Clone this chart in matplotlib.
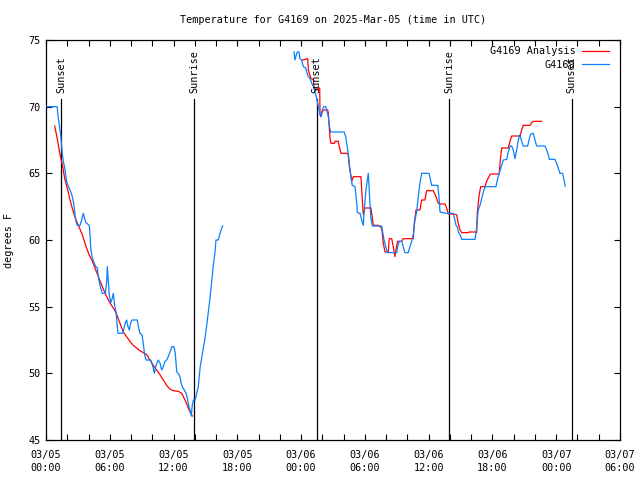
import numpy as np
import pandas as pd
import matplotlib
matplotlib.use('Agg')
import matplotlib.pyplot as plt
from matplotlib.ticker import MultipleLocator

# hours since 2025-03-05 00:00 UTC
BASE = pd.Timestamp('2025-03-05 00:00')

obs1_h = [0.07, 1.06, 1.10, 1.25, 1.38, 1.44, 1.53, 1.63, 1.76, 1.88, 1.95, 2.07, 2.26, 2.38, 2.51,
          2.63, 2.73, 2.82, 2.94, 3.20, 3.32, 3.51, 3.64, 3.76, 4.07, 4.14, 4.21, 4.33, 4.52, 4.68,
          4.83, 4.92, 5.08, 5.30, 5.58, 5.71, 5.77, 5.86, 5.95, 6.09, 6.24, 6.33, 6.46, 6.59, 6.65,
          6.77, 7.22, 7.34, 7.46, 7.59, 7.71, 7.84, 7.97, 8.09, 8.59, 8.72, 8.84, 9.03, 9.15, 9.28,
          9.41, 9.85, 9.94, 10.09, 10.19, 10.35, 10.56, 10.72, 10.88, 11.04, 11.19, 11.35, 11.50,
          11.67, 11.83, 12.04, 12.16, 12.30, 12.45, 12.61, 12.70, 12.82, 13.01, 13.17, 13.29, 13.42,
          13.55, 13.67, 13.76, 13.86, 14.02, 14.18, 14.33, 14.49, 14.65, 14.80, 14.96, 15.12, 15.27,
          15.43, 15.59, 15.74, 15.90, 15.99, 16.21, 16.37, 16.53, 16.62]
obs1_t = [70.0, 70.0, 69.5, 68.6, 67.9, 67.3, 66.5, 65.9, 65.4, 64.75, 64.35, 64.1, 63.75, 63.5, 63.15,
          62.6, 61.9, 61.4, 61.1, 61.1, 61.4, 62.0, 61.6, 61.3, 61.1, 60.4, 59.4, 58.75, 58.3, 58.0,
          57.9, 57.25, 56.6, 56.0, 56.0, 56.9, 58.0, 56.9, 55.9, 55.3, 55.65, 56.0, 55.1, 54.6, 54.0,
          53.0, 53.0, 53.4, 53.8, 54.0, 53.5, 53.25, 53.8, 54.0, 54.0, 53.4, 53.0, 52.9, 52.25, 51.4,
          51.0, 51.0, 50.8, 50.4, 50.0, 50.6, 51.0, 50.8, 50.25, 50.5, 50.9, 51.0, 51.25,
          51.6, 52.0, 52.0, 51.5, 50.1, 50.0, 49.75, 49.3, 49.0, 48.75, 48.5, 48.15, 47.6,
          47.25, 46.8, 47.6, 48.0, 48.0, 48.5, 49.0, 50.4, 51.15, 51.9, 52.65, 53.6, 54.6,
          55.65, 56.9, 58.1, 59.1, 60.0, 60.0, 60.5, 60.9, 61.05]

obs2_h = [23.33, 23.42, 23.55, 23.64, 23.80, 23.89, 24.05, 24.21, 24.43, 24.53, 24.68, 24.84, 25.00,
          25.15, 25.31, 25.47, 25.62, 25.75, 25.87, 25.99, 26.12, 26.31, 26.41, 26.56, 26.65, 26.78,
          28.06, 28.19, 28.32, 28.44, 28.57, 28.69, 28.81, 29.07, 29.23, 29.29, 29.54, 29.70, 29.85,
          29.92, 30.10, 30.32, 30.41, 30.55, 30.70, 31.58, 31.67, 31.80, 31.96, 32.11, 32.99, 33.08,
          33.24, 33.46, 33.61, 33.77, 34.08, 34.24, 34.40, 34.55, 34.71, 34.87, 35.02, 35.18, 35.34,
          36.03, 36.12, 36.28, 36.85, 36.97, 37.07, 37.69, 38.31, 38.47, 38.57, 38.69, 38.79, 38.95,
          39.11, 40.36, 40.45, 40.57, 40.67, 40.83, 40.99, 41.14, 41.30, 42.33, 42.46, 42.64, 42.87,
          43.02, 43.34, 43.49, 43.65, 43.81, 43.96, 44.12, 44.28, 44.43, 44.59, 44.71, 44.90, 45.31,
          45.44, 45.60, 45.84, 46.00, 46.16, 46.94, 47.10, 47.25, 47.35, 47.88, 48.04, 48.19, 48.35,
          48.60, 48.73, 48.85]
obs2_t = [74.1, 73.5, 73.9, 74.1, 74.1, 73.6, 73.5, 73.0, 72.9, 72.6, 72.25, 72.1, 71.75,
          71.5, 71.1, 70.6, 70.0, 69.5, 69.25, 69.75, 70.0, 70.0, 69.75, 69.25, 68.6, 68.1,
          68.1, 67.75, 67.1, 66.4, 65.4, 64.75, 64.1, 64.0, 62.8, 62.05, 62.0, 61.5, 61.1,
          62.0, 63.75, 65.0, 63.75, 61.75, 61.05, 61.05, 60.6, 60.0, 59.5, 59.05, 59.05, 59.5,
          59.9, 59.9, 59.5, 59.05, 59.05, 59.5, 59.9, 60.4, 61.5, 62.1, 63.25, 64.25, 65.0,
          65.0, 64.7, 64.1, 64.1, 63.25, 62.1, 62.0, 62.0, 61.5, 61.1, 61.0, 60.6, 60.4,
          60.05, 60.05, 60.5, 61.5, 62.25, 62.6, 63.1, 63.6, 64.0, 64.0, 64.5, 65.0, 65.6,
          66.0, 66.05, 66.6, 67.05, 67.05, 66.75, 66.1, 66.75, 67.5, 67.9, 67.5, 67.05, 67.05,
          67.5, 67.95, 68.0, 67.5, 67.05, 67.05, 66.75, 66.4, 66.05, 66.05, 65.75, 65.4, 65.0,
          65.0, 64.5, 64.05]

ana1_h = [0.82, 1.06, 1.32, 1.57, 1.76, 2.00, 2.26, 2.57, 2.82, 3.10, 3.41, 3.73, 4.05, 4.36, 4.68,
          4.99, 5.30, 5.62, 5.93, 6.24, 6.56, 6.96, 7.27, 7.59, 7.90, 8.21, 8.53, 8.84, 9.15, 9.47,
          9.78, 10.09, 10.41, 10.72, 11.04, 11.35, 11.67, 11.98, 12.45, 12.77, 13.08, 13.29, 13.55, 13.76]
ana1_t = [68.55, 67.6, 66.4, 65.5, 64.6, 63.9, 63.0, 62.1, 61.5, 61.0, 60.4, 59.6, 58.9, 58.4, 57.75,
          57.1, 56.5, 55.9, 55.4, 55.0, 54.6, 53.75, 53.1, 52.75, 52.4, 52.1, 51.9, 51.7, 51.55, 51.4,
          51.0, 50.6, 50.25, 49.9, 49.5, 49.1, 48.8, 48.7, 48.65, 48.5, 48.0, 47.6, 47.1, 46.8]

ana2_h = [24.15, 24.62, 24.68, 24.93, 25.15, 25.22, 25.47, 25.62, 25.75, 25.78, 25.87, 25.99, 26.09,
          26.50, 26.56, 26.65, 26.72, 26.81, 27.12, 27.19, 27.50, 27.59, 27.75, 28.29, 28.44, 28.53,
          28.69, 28.76, 28.91, 29.63, 29.70, 29.85, 30.01, 30.57, 30.70, 30.79, 31.26, 31.58, 31.73,
          31.89, 32.20, 32.29, 32.52, 32.67, 32.83, 32.92, 33.08, 33.46, 33.61, 34.55, 34.65, 34.81,
          35.18, 35.34, 35.65, 35.81, 36.43, 36.69, 36.90, 37.07, 37.54, 37.69, 37.85, 38.31, 38.63,
          38.79, 38.95, 39.11, 39.67, 39.83, 40.36, 40.52, 40.57, 40.73, 40.89, 41.30, 41.45, 41.77,
          41.84, 42.64, 42.71, 42.87, 43.49, 43.65, 43.81, 44.59, 44.75, 44.90, 45.53, 45.69, 45.84,
          46.63]
ana2_t = [73.5, 73.6, 72.75, 72.1, 72.05, 71.4, 71.25, 71.4, 71.4, 69.4, 69.25, 69.6, 69.75,
          69.75, 69.5, 68.4, 67.6, 67.25, 67.25, 67.4, 67.4, 67.0, 66.5, 66.5, 66.4, 65.6,
          64.75, 64.4, 64.75, 64.75, 63.75, 61.9, 62.4, 62.4, 61.6, 61.1, 61.1, 60.9, 59.75,
          59.1, 59.1, 60.1, 60.1, 59.5, 58.75, 59.25, 59.9, 59.9, 60.1, 60.1, 61.25, 62.25,
          62.25, 63.0, 63.0, 63.7, 63.7, 63.25, 62.75, 62.7, 62.7, 62.4, 61.95, 61.95, 61.9,
          61.25, 60.75, 60.55, 60.55, 60.6, 60.6, 60.55, 62.0, 63.25, 64.0, 64.0, 64.4, 64.9,
          64.95, 64.95, 65.75, 66.9, 66.9, 67.4, 67.8, 67.8, 68.25, 68.6, 68.6, 68.8, 68.9,
          68.9]

sun_h = [1.45, 13.95, 25.45, 37.93, 49.47]
sun_lbl = ['Sunset', 'Sunrise', 'Sunset', 'Sunrise', 'Sunset']
SUN_TOP = 70.55

FONT = 'DejaVu Sans Mono'
FS = 7.3
plt.rcParams['font.family'] = FONT
plt.rcParams['font.size'] = FS

fig = plt.figure(figsize=(6.4, 4.8), dpi=100)
ax = fig.add_axes([46/640, 40/480, 574/640, 400/480])

obs_h = obs1_h + [np.nan] + obs2_h
obs_t = obs1_t + [np.nan] + obs2_t
ana_h = ana1_h + [np.nan] + ana2_h
ana_t = ana1_t + [np.nan] + ana2_t

ax.plot(ana_h, ana_t, color='#ff0000', lw=0.9, label='G4169 Analysis', zorder=3)
ax.plot(obs_h, obs_t, color='#0a80ff', lw=0.9, label='G4169', zorder=3)

for h, lbl in zip(sun_h, sun_lbl):
    ax.plot([h, h], [45, SUN_TOP], color='black', lw=0.9, zorder=2)
    ax.text(h, SUN_TOP + 0.45, lbl, rotation=90, ha='center', va='bottom', fontsize=FS)

ax.set_xlim(0, 54)
ax.set_ylim(45, 75)
ticks = np.arange(0, 55, 6)
ax.set_xticks(ticks)
ax.set_xticklabels([(BASE + pd.Timedelta(hours=int(t))).strftime('%m/%d\n%H:%M') for t in ticks],
                   linespacing=1.45)
ax.xaxis.set_minor_locator(MultipleLocator(2))
ax.yaxis.set_major_locator(MultipleLocator(5))
ax.tick_params(which='both', direction='in', top=True, right=True, length=4, width=0.8,
               labelsize=FS, pad=4)
ax.tick_params(axis='x', pad=7)
for s in ax.spines.values():
    s.set_linewidth(0.9)

ax.set_ylabel('degrees F', fontsize=FS)
ax.yaxis.set_label_coords(-0.055, 0.5)
ax.set_title('Temperature for G4169 on 2025-Mar-05 (time in UTC)', fontsize=FS, pad=12)

ax.legend(loc='upper right', bbox_to_anchor=(1 - 6/574, 1 - 1/400), frameon=False,
          markerfirst=False, fontsize=FS, handlelength=2.7, handletextpad=0.6,
          labelspacing=0.35, borderaxespad=0.2, borderpad=0.3)

fig.savefig('out.png', dpi=100)
